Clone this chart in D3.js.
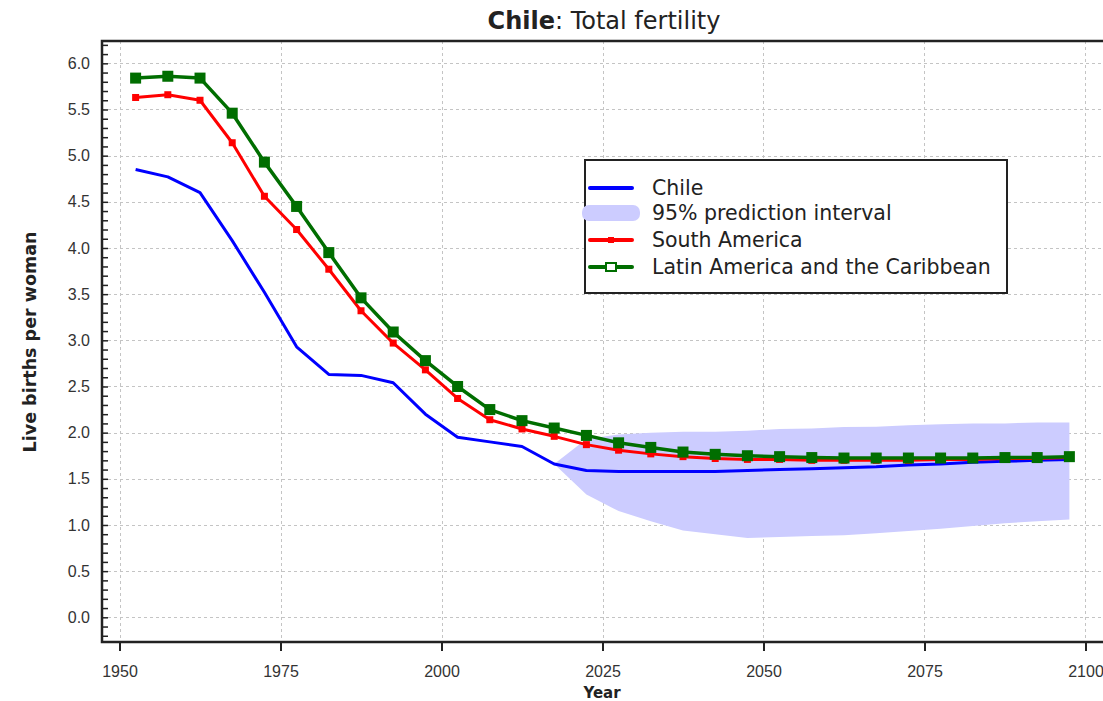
<!DOCTYPE html>
<html>
<head>
<meta charset="utf-8">
<script src="https://cdn.jsdelivr.net/npm/d3@7/dist/d3.min.js"></script>
<style>
  body { margin: 0; background: #fff; }
  svg { display: block; font-family: "DejaVu Sans", Verdana, sans-serif; }
</style>
</head>
<body>
<svg id="chart" width="1103" height="701"></svg>
<script>
// period midpoints (5-year periods 1950-55 ... 2095-2100)
var years = [1952.5, 1957.5, 1962.5, 1967.5, 1972.5, 1977.5, 1982.5, 1987.5, 1992.5, 1997.5,
             2002.5, 2007.5, 2012.5, 2017.5, 2022.5, 2027.5, 2032.5, 2037.5, 2042.5, 2047.5,
             2052.5, 2057.5, 2062.5, 2067.5, 2072.5, 2077.5, 2082.5, 2087.5, 2092.5, 2097.5];

var chile = [4.85, 4.77, 4.60, 4.08, 3.52, 2.93, 2.63, 2.62, 2.54, 2.20,
             1.95, 1.90, 1.85, 1.66, 1.59, 1.58, 1.58, 1.58, 1.58, 1.59,
             1.60, 1.61, 1.62, 1.63, 1.65, 1.66, 1.68, 1.69, 1.70, 1.71];

var southAmerica = [5.63, 5.66, 5.60, 5.14, 4.56, 4.20, 3.77, 3.32, 2.97, 2.68,
                    2.37, 2.14, 2.04, 1.96, 1.87, 1.81, 1.77, 1.74, 1.72, 1.71,
                    1.71, 1.70, 1.70, 1.70, 1.70, 1.71, 1.71, 1.72, 1.72, 1.73];

var latinAmerica = [5.84, 5.86, 5.84, 5.46, 4.93, 4.45, 3.95, 3.46, 3.09, 2.78,
                    2.50, 2.25, 2.13, 2.05, 1.97, 1.89, 1.84, 1.79, 1.765, 1.75,
                    1.74, 1.73, 1.725, 1.725, 1.725, 1.725, 1.725, 1.73, 1.73, 1.74];

// 95% prediction interval for Chile, from 2017.5
var piYears = [2017.5, 2022.5, 2027.5, 2032.5, 2037.5, 2042.5, 2047.5, 2052.5, 2057.5,
               2062.5, 2067.5, 2072.5, 2077.5, 2082.5, 2087.5, 2092.5, 2097.5];
var piUpper = [1.66, 1.93, 1.98, 2.00, 2.01, 2.01, 2.02, 2.04, 2.045,
               2.06, 2.065, 2.08, 2.09, 2.10, 2.10, 2.11, 2.11];
var piLower = [1.66, 1.33, 1.15, 1.04, 0.94, 0.90, 0.86, 0.87, 0.88,
               0.89, 0.91, 0.935, 0.96, 0.99, 1.02, 1.04, 1.06];

var xTicks = [1950, 1975, 2000, 2025, 2050, 2075, 2100];
var yTicks = [0, 0.5, 1, 1.5, 2, 2.5, 3, 3.5, 4, 4.5, 5, 5.5, 6];
var legendLabels = ["Chile", "95% prediction interval", "South America", "Latin America and the Caribbean"];

var svg = d3.select("#chart");
var pLeft = 102, pRight = 1103, pTop = 41, pBottom = 642;

var x = d3.scaleLinear().domain([1947.28, 2102.72]).range([pLeft, pRight]);
var y = d3.scaleLinear().domain([-0.2675, 6.2418]).range([pBottom, pTop]);

// grid
var grid = svg.append("g").attr("stroke", "#c4c4c4").attr("stroke-width", 1).attr("stroke-dasharray", "3,3");
grid.selectAll(".hg").data(yTicks).enter().append("line").attr("class", "hg")
    .attr("x1", pLeft).attr("x2", pRight)
    .attr("y1", function(d) { return Math.round(y(d)) + 0.5; })
    .attr("y2", function(d) { return Math.round(y(d)) + 0.5; });
grid.selectAll(".vg").data(xTicks).enter().append("line").attr("class", "vg")
    .attr("y1", pTop).attr("y2", pBottom)
    .attr("x1", function(d) { return Math.round(x(d)) + 0.5; })
    .attr("x2", function(d) { return Math.round(x(d)) + 0.5; });

// prediction interval
var area = d3.area()
    .x(function(d, i) { return x(piYears[i]); })
    .y0(function(d, i) { return y(piLower[i]); })
    .y1(function(d, i) { return y(piUpper[i]); });
svg.append("path").datum(piYears).attr("d", area).attr("fill", "#ccccff");

function drawSeries(vals, color, width) {
  var line = d3.line()
      .x(function(d, i) { return x(years[i]); })
      .y(function(d) { return y(d); });
  svg.append("path").datum(vals).attr("d", line)
     .attr("fill", "none").attr("stroke", color).attr("stroke-width", width)
     .attr("stroke-linejoin", "round");
}

drawSeries(chile, "#0000ff", 3);
drawSeries(southAmerica, "#ff0000", 3);
svg.append("g").selectAll("rect").data(southAmerica).enter().append("rect")
    .attr("x", function(d, i) { return x(years[i]) - 3.5; })
    .attr("y", function(d) { return y(d) - 3.5; })
    .attr("width", 7).attr("height", 7).attr("fill", "#ff0000");
drawSeries(latinAmerica, "#006e00", 3.5);
svg.append("g").selectAll("rect").data(latinAmerica).enter().append("rect")
    .attr("x", function(d, i) { return x(years[i]) - 5.5; })
    .attr("y", function(d) { return y(d) - 5.5; })
    .attr("width", 11).attr("height", 11).attr("fill", "#006e00");

// axes
var yMinor = d3.range(-2, 63).map(function(d) { return d / 10; });
svg.append("g").attr("transform", "translate(" + pLeft + ",0)")
   .call(d3.axisRight(y).tickValues(yMinor).tickSize(6).tickFormat(""))
   .call(function(g) {
     g.select(".domain").remove();
     g.selectAll("line").attr("stroke", "#222").attr("stroke-width", 1.5);
   });
svg.append("g").attr("transform", "translate(" + (pLeft - 12) + ",0)")
   .call(d3.axisLeft(y).tickValues(yTicks).tickSize(0).tickPadding(0).tickFormat(d3.format(".1f")))
   .call(function(g) {
     g.select(".domain").remove();
     g.selectAll("text").attr("font-size", 16).attr("fill", "#333").attr("font-family", null);
   });
svg.append("g").attr("transform", "translate(0," + pBottom + ")")
   .call(d3.axisBottom(x).tickValues(xTicks).tickSize(9).tickPadding(15).tickFormat(d3.format("d")))
   .call(function(g) {
     g.select(".domain").remove();
     g.selectAll("line").attr("stroke", "#222").attr("stroke-width", 2);
     g.selectAll("text").attr("font-size", 16).attr("fill", "#333").attr("font-family", null);
   });

// frame
svg.append("path")
   .attr("d", "M" + pRight + "," + pTop + "H" + pLeft + "V" + pBottom + "H" + pRight)
   .attr("fill", "none").attr("stroke", "#222").attr("stroke-width", 2.5);

// titles
var title = svg.append("text").attr("x", 604).attr("y", 29).attr("text-anchor", "middle")
   .attr("font-size", 24).attr("fill", "#222");
title.append("tspan").attr("font-weight", "bold").text("Chile");
title.append("tspan").text(": Total fertility");

svg.append("text").attr("x", 602).attr("y", 698).attr("text-anchor", "middle")
   .attr("font-size", 15).attr("font-weight", "bold").attr("fill", "#222").text("Year");

svg.append("text").attr("transform", "translate(36,342) rotate(-90)").attr("text-anchor", "middle")
   .attr("font-size", 17.5).attr("font-weight", "bold").attr("fill", "#222").text("Live births per woman");

// legend
var lg = svg.append("g");
lg.append("rect").attr("x", 585).attr("y", 160).attr("width", 422).attr("height", 133)
  .attr("fill", "#fff").attr("stroke", "#222").attr("stroke-width", 2);
var rowY = [188, 213, 240, 267];
lg.append("line").attr("x1", 590).attr("x2", 632).attr("y1", rowY[0]).attr("y2", rowY[0])
  .attr("stroke", "#0000ff").attr("stroke-width", 4).attr("stroke-linecap", "round");
lg.append("rect").attr("x", 582).attr("y", rowY[1] - 8).attr("width", 58).attr("height", 16)
  .attr("rx", 7).attr("fill", "#ccccff");
lg.append("line").attr("x1", 590).attr("x2", 632).attr("y1", rowY[2]).attr("y2", rowY[2])
  .attr("stroke", "#ff0000").attr("stroke-width", 4).attr("stroke-linecap", "round");
lg.append("rect").attr("x", 608).attr("y", rowY[2] - 3).attr("width", 6).attr("height", 6).attr("fill", "#ff0000");
lg.append("line").attr("x1", 590).attr("x2", 632).attr("y1", rowY[3]).attr("y2", rowY[3])
  .attr("stroke", "#006e00").attr("stroke-width", 4).attr("stroke-linecap", "round");
lg.append("rect").attr("x", 606).attr("y", rowY[3] - 4).attr("width", 10).attr("height", 8)
  .attr("fill", "#fff").attr("stroke", "#006e00").attr("stroke-width", 2);
lg.selectAll("text").data(legendLabels).enter().append("text")
  .attr("x", 652).attr("y", function(d, i) { return rowY[i]; }).attr("dy", "0.36em")
  .attr("font-size", 20.5).attr("fill", "#222").text(function(d) { return d; });
</script>
</body>
</html>
